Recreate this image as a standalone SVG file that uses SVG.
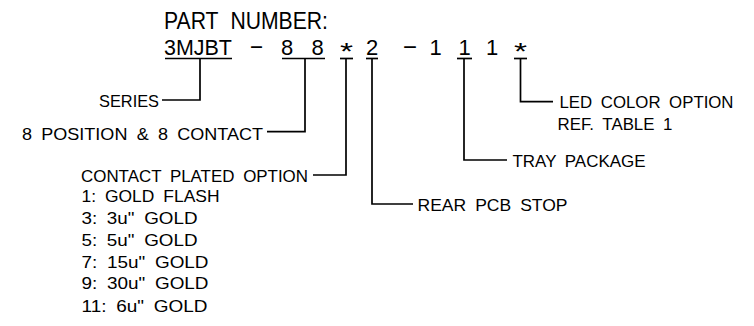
<svg xmlns="http://www.w3.org/2000/svg" width="754" height="326" viewBox="0 0 754 326">
<style>
text{font-family:"Liberation Sans",Arial,sans-serif;fill:#000}
.big{font-size:22px}
.lbl{font-size:17px;word-spacing:4px}
.cn line{stroke:#000;stroke-width:1.7;fill:none}
.cn polyline{stroke:#000;stroke-width:1.7;fill:none}
</style>
<rect width="754" height="326" fill="#fff"/>
<g id="title">
<text class="big" x="164" y="29" textLength="164" lengthAdjust="spacingAndGlyphs" style="font-size:23px;word-spacing:7px">PART NUMBER:</text>
</g>
<g id="part-number">
<text class="big" x="164" y="54.5" textLength="68" lengthAdjust="spacingAndGlyphs">3MJBT</text>
<text class="big" x="249" y="53" textLength="15" lengthAdjust="spacingAndGlyphs">-</text>
<text class="big" x="281" y="54.5">8</text>
<text class="big" x="311.5" y="54.5">8</text>
<text x="340" y="60" style="font-size:24px" textLength="13" lengthAdjust="spacingAndGlyphs">*</text>
<text class="big" x="366" y="54.5">2</text>
<text class="big" x="402" y="53" textLength="16" lengthAdjust="spacingAndGlyphs">-</text>
<text class="big" x="429.5" y="54.5">1</text>
<text class="big" x="458.5" y="54.5">1</text>
<text class="big" x="486" y="54.5">1</text>
<text x="514" y="60" style="font-size:24px" textLength="13" lengthAdjust="spacingAndGlyphs">*</text>
</g>
<g id="series"><text class="lbl" x="159" y="107" text-anchor="end" textLength="60" lengthAdjust="spacingAndGlyphs">SERIES</text></g>
<g id="position"><text class="lbl" x="263" y="140" text-anchor="end" textLength="241" lengthAdjust="spacingAndGlyphs">8 POSITION &amp; 8 CONTACT</text></g>
<g id="plating">
<text class="lbl" x="308" y="181.5" text-anchor="end" textLength="227" lengthAdjust="spacingAndGlyphs">CONTACT PLATED OPTION</text>
<text class="lbl" x="81.5" y="202" textLength="138" lengthAdjust="spacingAndGlyphs">1: GOLD FLASH</text>
<text class="lbl" x="81.5" y="224" textLength="116" lengthAdjust="spacingAndGlyphs">3: 3u" GOLD</text>
<text class="lbl" x="81.5" y="246" textLength="116" lengthAdjust="spacingAndGlyphs">5: 5u" GOLD</text>
<text class="lbl" x="81.5" y="267.5" textLength="127" lengthAdjust="spacingAndGlyphs">7: 15u" GOLD</text>
<text class="lbl" x="81.5" y="289.3" textLength="127" lengthAdjust="spacingAndGlyphs">9: 30u" GOLD</text>
<text class="lbl" x="81.5" y="311.5" textLength="126" lengthAdjust="spacingAndGlyphs">11: 6u" GOLD</text>
</g>
<g id="rear-stop"><text class="lbl" x="417.5" y="210.5" textLength="150" lengthAdjust="spacingAndGlyphs">REAR PCB STOP</text></g>
<g id="tray"><text class="lbl" x="512.5" y="167" textLength="133" lengthAdjust="spacingAndGlyphs">TRAY PACKAGE</text></g>
<g id="led">
<text class="lbl" x="559.5" y="108" textLength="174" lengthAdjust="spacingAndGlyphs">LED COLOR OPTION</text>
<text class="lbl" x="557.5" y="130" textLength="115" lengthAdjust="spacingAndGlyphs">REF. TABLE 1</text>
</g>
<g id="connectors" class="cn">
<line x1="165" y1="58.5" x2="232" y2="58.5"/>
<polyline points="200,58.5 200,100 162,100"/>
<line x1="282" y1="58.5" x2="325" y2="58.5"/>
<polyline points="305,58.5 305,131.7 267,131.7"/>
<line x1="340" y1="58.5" x2="353" y2="58.5"/>
<polyline points="346,58.5 346,175 313,175"/>
<line x1="366" y1="58.5" x2="378" y2="58.5"/>
<polyline points="372,58.5 372,204 413,204"/>
<line x1="457" y1="58.5" x2="472" y2="58.5"/>
<polyline points="464,58.5 464,160 507,160"/>
<line x1="514" y1="58.5" x2="527" y2="58.5"/>
<polyline points="520.5,58.5 520.5,101.7 553,101.7"/>
</g>
</svg>
